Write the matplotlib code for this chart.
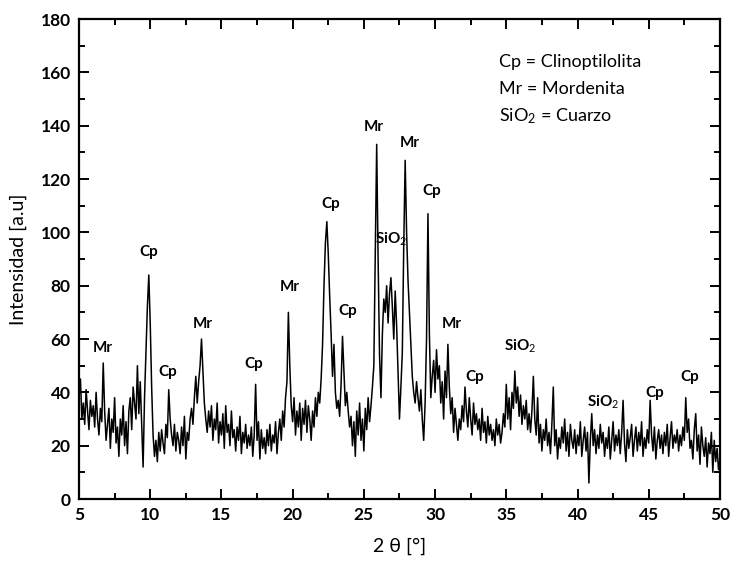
import matplotlib.pyplot as plt
from matplotlib.ticker import MultipleLocator
import numpy as np

plt.rcParams['font.family'] = ['Lato', 'DejaVu Sans']
plt.rcParams['mathtext.fontset'] = 'custom'
plt.rcParams['mathtext.rm'] = 'Lato'
plt.rcParams['mathtext.it'] = 'Lato:italic'
plt.rcParams['mathtext.bf'] = 'Lato:bold'

# 2-theta from 5 to 50 deg, step 0.1 (one row per degree)
two_theta_start = 5.0
two_theta_step = 0.1
intensity = [
    38, 45, 30, 36, 28, 41, 33, 26, 37, 31,     # 5
    35, 27, 40, 30, 24, 34, 29, 51, 33, 22,     # 6
    28, 34, 19, 30, 25, 38, 21, 27, 16, 30,     # 7
    24, 35, 20, 29, 17, 33, 38, 26, 42, 36,     # 8
    30, 50, 32, 44, 28, 12, 38, 55, 72, 84,     # 9
    66, 42, 24, 16, 22, 14, 25, 18, 26, 21,     # 10
    17, 28, 23, 41, 30, 24, 20, 28, 18, 25,     # 11
    22, 17, 27, 20, 31, 15, 25, 22, 30, 34,     # 12
    28, 38, 46, 36, 44, 50, 60, 48, 36, 30,     # 13
    25, 33, 27, 35, 22, 30, 26, 36, 21, 29,     # 14
    24, 32, 19, 35, 25, 28, 20, 33, 23, 26,     # 15
    18, 27, 22, 31, 17, 25, 21, 28, 19, 24,     # 16
    20, 27, 16, 24, 43, 22, 29, 15, 26, 19,     # 17
    23, 17, 26, 20, 28, 18, 24, 21, 29, 17,     # 18
    25, 30, 22, 33, 27, 38, 44, 70, 50, 35,     # 19
    29, 38, 24, 33, 27, 36, 22, 34, 28, 37,     # 20
    25, 35, 30, 22, 33, 27, 38, 31, 40, 36,     # 21
    45, 58, 80, 96, 104, 92, 76, 62, 46, 58,    # 22
    40, 34, 37, 31, 43, 61, 48, 35, 40, 33,     # 23
    27, 31, 20, 29, 16, 33, 24, 36, 22, 30,     # 24
    18, 34, 26, 38, 29, 35, 42, 50, 90, 133,    # 25
    90, 54, 38, 62, 75, 70, 80, 66, 77, 83,     # 26
    72, 60, 78, 65, 48, 30, 42, 55, 95, 127,    # 27
    100, 82, 70, 58, 46, 40, 36, 44, 38, 33,    # 28
    41, 30, 22, 36, 60, 107, 62, 38, 46, 52,    # 29
    40, 56, 45, 50, 36, 44, 30, 48, 38, 58,     # 30
    42, 32, 38, 25, 34, 28, 22, 30, 26, 35,     # 31
    29, 42, 33, 27, 38, 30, 24, 36, 28, 32,     # 32
    26, 30, 22, 34, 25, 29, 21, 31, 24, 28,     # 33
    22, 26, 20, 30, 24, 28, 21, 25, 32, 27,     # 34
    43, 30, 38, 26, 40, 34, 48, 36, 42, 31,     # 35
    39, 28, 35, 30, 37, 26, 32, 25, 33, 46,     # 36
    30, 24, 38, 21, 28, 18, 26, 22, 30, 20,     # 37
    25, 17, 28, 42, 20, 26, 15, 23, 19, 27,     # 38
    21, 30, 18, 25, 16, 28, 22, 19, 26, 17,     # 39
    24, 20, 29, 16, 22, 27, 18, 25, 6, 22,      # 40
    32, 20, 26, 17, 24, 19, 28, 21, 25, 16,     # 41
    23, 19, 27, 15, 22, 29, 18, 24, 20, 26,     # 42
    17, 25, 37, 21, 14, 26, 19, 23, 28, 16,     # 43
    22, 27, 18, 25, 20, 29, 16, 23, 19, 26,     # 44
    21, 37, 24, 18, 27, 15, 22, 26, 19, 24,     # 45
    17, 25, 20, 28, 16, 23, 29, 19, 24, 21,     # 46
    26, 18, 24, 20, 27, 22, 38, 25, 30, 19,     # 47
    22, 15, 26, 32, 18, 24, 13, 27, 20, 16,     # 48
    23, 12, 21, 17, 25, 10, 22, 14, 19, 11,     # 49
    15,                                         # 50
]

# peak labels: text, 2-theta, height
peak_labels = ['Mr', 'Cp', 'Cp', 'Mr', 'Cp', 'Mr', 'Cp', 'Cp', 'Mr',
               'SiO$_2$', 'Mr', 'Cp', 'Mr', 'Cp', 'SiO$_2$', 'SiO$_2$', 'Cp', 'Cp']
peak_x = [6.7, 9.9, 11.2, 13.7, 17.3, 19.8, 22.7, 23.9, 25.7,
          26.9, 28.2, 29.8, 31.2, 32.8, 36.0, 41.8, 45.4, 47.9]
peak_y = [54, 90, 45, 63, 48, 77, 108, 68, 137,
          94, 131, 113, 63, 43, 54, 33, 37, 43]

legend_lines = ['Cp = Clinoptilolita', 'Mr = Mordenita', 'SiO$_2$ = Cuarzo']

two_theta = two_theta_start + two_theta_step * np.arange(len(intensity))

fig = plt.figure(figsize=(7.35, 5.61), dpi=100)
ax = fig.add_axes([0.1075, 0.1105, 0.872, 0.8556])

ax.plot(two_theta, intensity, color='black', linewidth=1.1)

for label, x, y in zip(peak_labels, peak_x, peak_y):
    ax.text(x, y, label, ha='center', va='bottom', fontsize=11, fontweight='bold')

for i, line in enumerate(legend_lines):
    ax.text(34.5, 164 - i * 10.3, line, ha='left', va='center', fontsize=13)

ax.set_xlim(5, 50)
ax.set_ylim(0, 180)
ax.xaxis.set_major_locator(MultipleLocator(5))
ax.xaxis.set_minor_locator(MultipleLocator(2.5))
ax.yaxis.set_major_locator(MultipleLocator(20))
ax.yaxis.set_minor_locator(MultipleLocator(10))
ax.tick_params(which='both', direction='in', top=True, right=True, width=1.4)
ax.tick_params(which='major', length=7, labelsize=12.5, pad=6)
ax.tick_params(which='minor', length=4)
for lbl in ax.get_xticklabels() + ax.get_yticklabels():
    lbl.set_fontweight('bold')
for spine in ax.spines.values():
    spine.set_linewidth(1.6)

ax.set_xlabel('2 θ [°]', fontsize=14, labelpad=10)
ax.set_ylabel('Intensidad [a.u]', fontsize=14, labelpad=10)

fig.savefig('out.png', dpi=100)
